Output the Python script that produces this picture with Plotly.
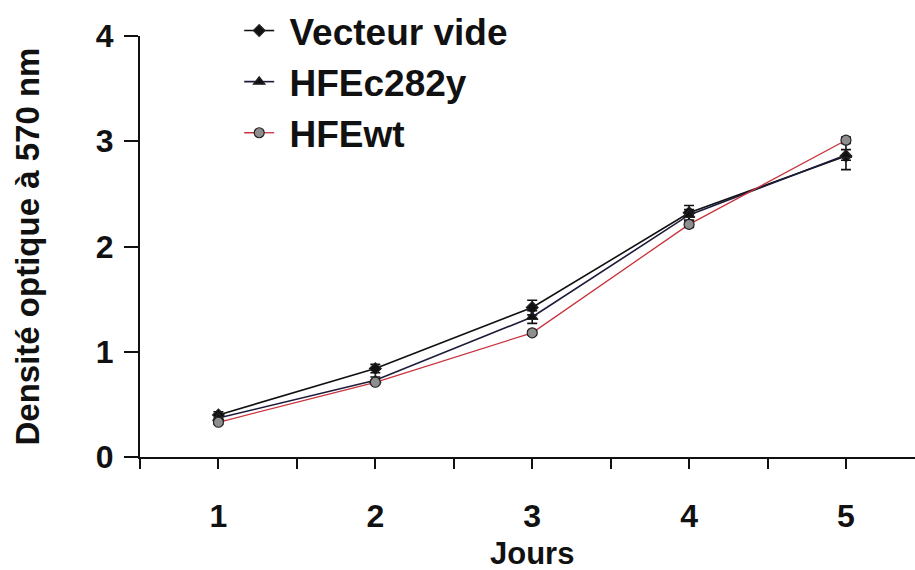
import plotly.graph_objects as go

# Growth curves: optical density at 570 nm over 5 days
jours = [1, 2, 3, 4, 5]

vecteur_vide = [0.40, 0.84, 1.42, 2.32, 2.86]
vecteur_vide_err = [0.03, 0.04, 0.07, 0.07, 0.13]

hfe_c282y = [0.37, 0.73, 1.33, 2.30, 2.87]
hfe_c282y_err = [0.03, 0.03, 0.06, 0.05, 0.05]

hfe_wt = [0.33, 0.71, 1.18, 2.21, 3.01]
hfe_wt_err = [0.02, 0.02, 0.02, 0.03, 0.03]

x_ticks = [0.5, 1, 1.5, 2, 2.5, 3, 3.5, 4, 4.5, 5]
x_ticktext = ["", "1", "", "2", "", "3", "", "4", "", "5"]
y_ticks = [0, 1, 2, 3, 4]

FONT = "Liberation Sans, Arial, sans-serif"
NBSP = "\u00a0"

fig = go.Figure()


def add_series(name, y, err, line_color, symbol, marker_color, size, line_width):
    fig.add_trace(go.Scatter(
        x=jours, y=y, name=NBSP + name, mode="lines+markers",
        line=dict(color=line_color, width=line_width),
        marker=dict(symbol=symbol, color=marker_color, size=size,
                    line=dict(color="#222222", width=1.2)),
        error_y=dict(type="data", array=err, visible=True,
                     color="#111111", thickness=1.6, width=5),
        cliponaxis=False,
    ))


add_series("Vecteur vide", vecteur_vide, vecteur_vide_err,
           "#111111", "diamond", "#111111", 9, 1.6)
add_series("HFEc282y", hfe_c282y, hfe_c282y_err,
           "#1c1c3a", "triangle-up", "#111111", 10, 1.6)
add_series("HFEwt", hfe_wt, hfe_wt_err,
           "#c8323c", "circle", "#8e8e8e", 10, 1.3)

fig.update_layout(
    width=915, height=570,
    margin=dict(l=140, r=0, t=36, b=113, autoexpand=False),
    paper_bgcolor="white", plot_bgcolor="white",
    font=dict(family=FONT, color="#111111"),
    showlegend=True,
    legend=dict(
        x=0.128, y=1.0, xanchor="left", yanchor="top", yref="container",
        bgcolor="rgba(0,0,0,0)",
        font=dict(size=37, family=FONT, weight="bold", color="#111111"),
        itemwidth=30, tracegroupgap=0,
    ),
    xaxis=dict(
        range=[0.5, 5.44], showgrid=False, zeroline=False,
        showline=True, linecolor="#111111", linewidth=2,
        tickmode="array", tickvals=x_ticks, ticktext=x_ticktext,
        ticks="outside", ticklen=10, tickwidth=1.5, tickcolor="#111111",
        ticklabelstandoff=20,
        tickfont=dict(size=32, family=FONT, weight="bold", color="#111111"),
    ),
    yaxis=dict(
        range=[0, 4], showgrid=False, zeroline=False,
        showline=True, linecolor="#111111", linewidth=2,
        tickmode="array", tickvals=y_ticks,
        ticks="outside", ticklen=14, tickwidth=1.5, tickcolor="#111111",
        ticklabelstandoff=4,
        tickfont=dict(size=32, family=FONT, weight="bold", color="#111111"),
    ),
)

fig.add_annotation(
    text="Densité optique à 570 nm", textangle=-90,
    xref="paper", yref="paper", x=(27 - 140) / 775, y=0.5,
    xanchor="center", yanchor="middle", showarrow=False,
    font=dict(size=33, family=FONT, weight="bold", color="#111111"),
)
fig.add_annotation(
    text="Jours", xref="x", yref="paper", x=3, y=(457 - 553) / 421,
    xanchor="center", yanchor="middle", showarrow=False,
    font=dict(size=31, family=FONT, weight="bold", color="#111111"),
)

fig.write_html("out.html")
